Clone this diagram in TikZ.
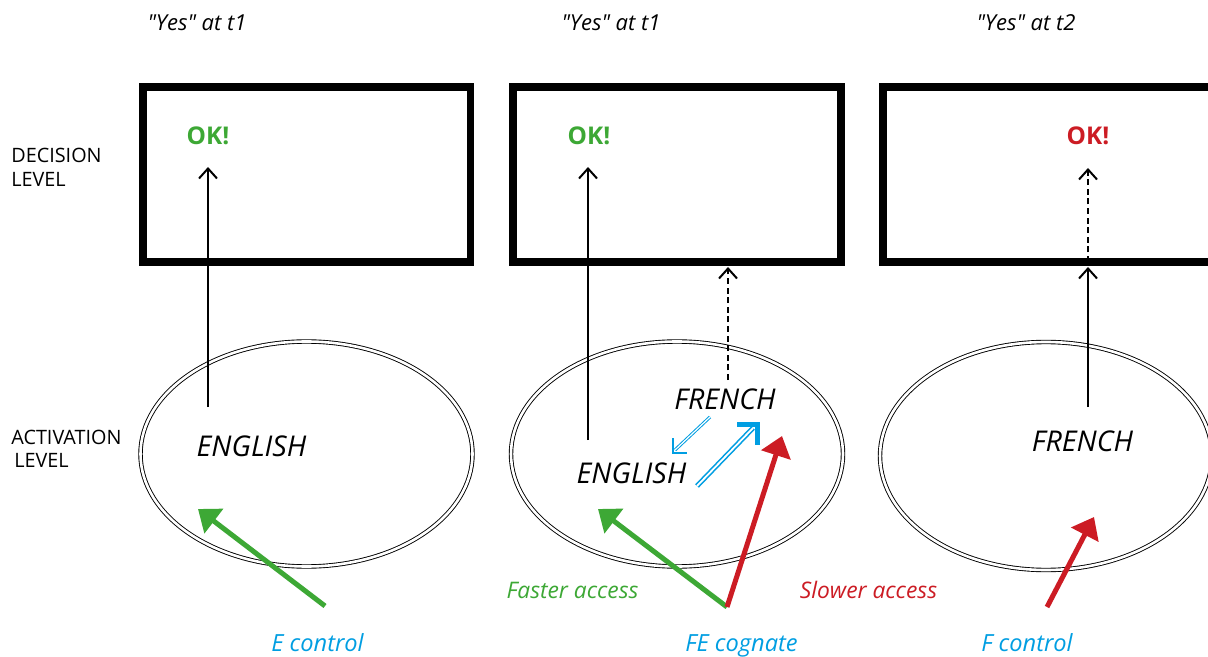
\documentclass[tikz,border=0pt]{standalone}
\usepackage{fontspec}
\setmainfont{Open Sans}[Ligatures=TeXOff]
\usetikzlibrary{arrows.meta}
\definecolor{okgreen}{RGB}{61,168,53}
\definecolor{okred}{RGB}{204,28,36}
\definecolor{cblue}{RGB}{0,158,226}
\begin{document}
\begin{tikzpicture}[x=0.5pt,y=-0.5pt,
 box/.style={draw, line width=3.8pt},
 act/.style={draw, double, line width=0.45pt, double distance=1.3pt},
 lvl/.style={font=\fontsize{9.9}{12}\selectfont, anchor=base west, inner sep=0pt},
 word/.style={font=\fontsize{14.3}{17}\selectfont\itshape, inner sep=0pt, anchor=base},
 ok/.style={font=\fontsize{12.2}{14}\selectfont\bfseries, inner sep=0pt, anchor=base},
 yes/.style={font=\fontsize{11}{13}\selectfont\itshape, inner sep=0pt, anchor=base},
 cond/.style={font=\fontsize{11.8}{14}\selectfont\itshape, text=cblue, inner sep=0pt, anchor=base},
 acc/.style={font=\fontsize{11.4}{14}\selectfont\itshape, inner sep=0pt, anchor=base},
 up/.style={line width=1pt, -{Straight Barb[length=5pt,width=9pt]}},
 updash/.style={up, dash pattern=on 3pt off 1.8pt},
 bigarrow/.style={line width=2.5pt, -{Triangle[length=10pt,width=15pt]}},
 bluedbl/.style={draw=cblue, double=white, line width=0.8pt, double distance=0.9pt},
 bluedbls/.style={draw=cblue, double=white, line width=0.5pt, double distance=0.6pt},
]
\clip (0,0) rectangle (1208,657);
\fill[white] (0,0) rectangle (1208,657);

% top labels
\node[yes] (y1) at (197,31) {"Yes" at t1};
\node[yes] (y2) at (611,31) {"Yes" at t1};
\node[yes] (y3) at (1026,31) {"Yes" at t2};

% level labels
\node[lvl] (dl1) at (11,163) {DECISION};
\node[lvl] (dl2) at (11,187) {LEVEL};
\node[lvl] (al1) at (11,444) {ACTIVATION};
\node[lvl] (al2) at (14,467) {LEVEL};

% decision boxes
\draw[box] (143,87) rectangle (470.5,262);
\draw[box] (513,87) rectangle (841,262);
\draw[box] (883,87) rectangle (1240,262);

% activation ellipses
\draw[act] (306.5,454) ellipse [x radius=166, y radius=-112.5];
\draw[act] (677,454) ellipse [x radius=166, y radius=-112.5];
\draw[act] (1046,456) ellipse [x radius=166, y radius=-114];

% OK labels
\node[ok, text=okgreen] (ok1) at (208,145) {OK!};
\node[ok, text=okgreen] (ok2) at (589,145) {OK!};
\node[ok, text=okred] (ok3) at (1088,145) {OK!};

% words
\node[word] (en1) at (251.5,456) {ENGLISH};
\node[word] (en2) at (631.5,483) {ENGLISH};
\node[word] (fr2) at (725,409) {FRENCH};
\node[word] (fr3) at (1082.5,451) {FRENCH};

% coordinates for connectors
\coordinate (a1s) at (208,407);
\coordinate (a1t) at (208,167);
\coordinate (a2s) at (588,440);
\coordinate (a2t) at (588,167);
\coordinate (d2s) at (728,380);
\coordinate (d2t) at (728,267);
\coordinate (a3s) at (1088,407);
\coordinate (a3t) at (1088,267);
\coordinate (d3s) at (1088,262);
\coordinate (d3t) at (1088,168);

\draw[up] (a1s) -- (a1t);
\draw[up] (a2s) -- (a2t);
\draw[updash] (d2s) -- (d2t);
\draw[up] (a3s) -- (a3t);
\draw[updash] (d3s) -- (d3t);

% blue arrows
\coordinate (b1s) at (710,417);
\coordinate (b1t) at (675,450);
\coordinate (b1c) at (673,453);
\draw[bluedbls] (b1s) -- (b1t);
\draw[cblue, line width=1.3pt, miter limit=10] (b1c) ++(0,-15) -- (b1c) -- ++(14,0);
\coordinate (b2s) at (697,486);
\coordinate (b2t) at (753,428);
\coordinate (b2c) at (757,424);
\draw[bluedbl] (b2s) -- (b2t);
\draw[cblue, line width=2.5pt, miter limit=10] (b2c) ++(-20,0) -- (b2c) -- ++(0,21);

% thick arrows
\coordinate (g1s) at (325,606);
\coordinate (g1t) at (198,509);
\coordinate (src) at (727,607);
\coordinate (g2t) at (598,509);
\coordinate (r2t) at (782,436);
\coordinate (r3s) at (1047,607);
\coordinate (r3t) at (1094,517);
\draw[bigarrow, okgreen] (g1s) -- (g1t);
\draw[bigarrow, okgreen] (src) -- (g2t);
\draw[bigarrow, okred] (src) -- (r2t);
\draw[bigarrow, okred] (r3s) -- (r3t);

% bottom labels
\node[acc, text=okgreen] (fa) at (572.5,598) {Faster access};
\node[acc, text=okred] (sa) at (868.5,598) {Slower access};
\node[cond] (ec) at (317.5,651) {E control};
\node[cond] (fe) at (741.5,651) {FE cognate};
\node[cond] (fc) at (1027,651) {F control};
\end{tikzpicture}
\end{document}
